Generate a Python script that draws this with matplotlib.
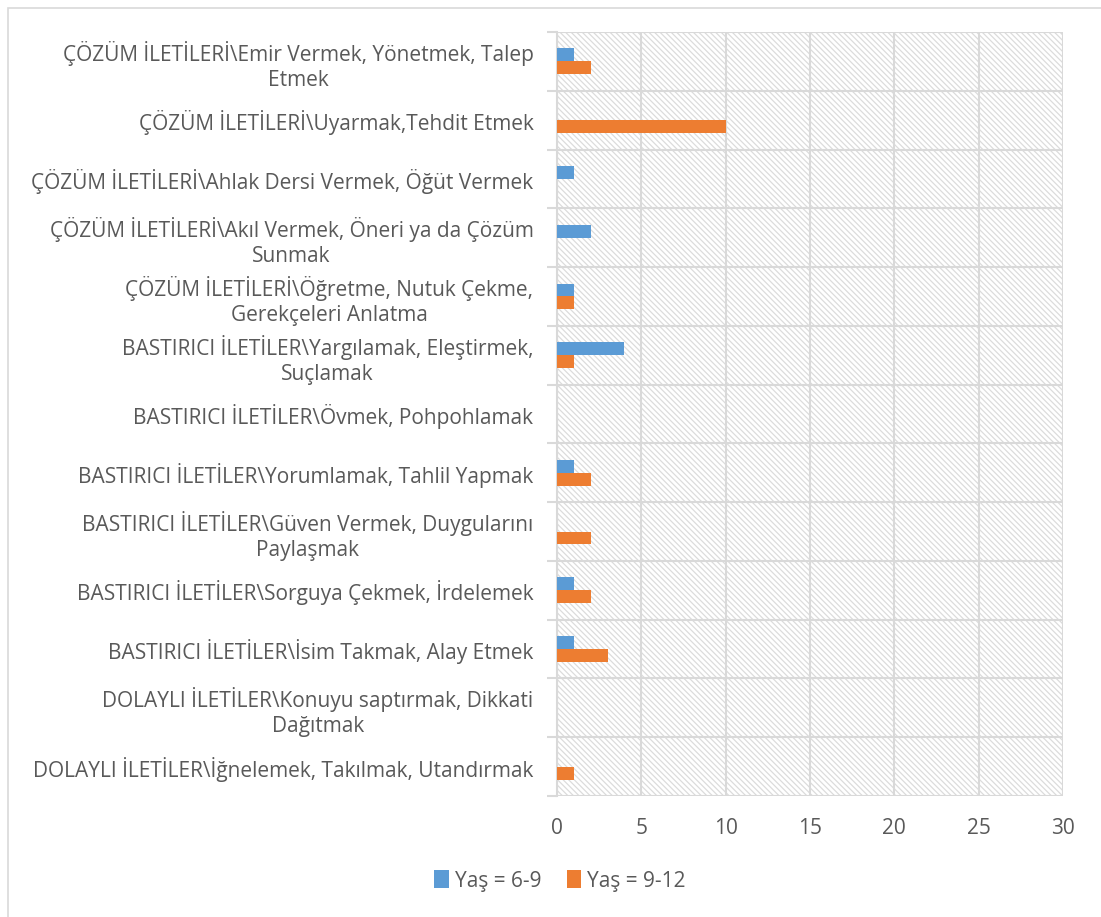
import numpy as np
import matplotlib.pyplot as plt
from matplotlib.patches import Rectangle

plt.rcParams['font.family'] = ['Open Sans', 'DejaVu Sans']
plt.rcParams['hatch.linewidth'] = 0.9

# Veriler (yukarıdan aşağıya)
kategoriler = [
    "ÇÖZÜM İLETİLERİ\\Emir Vermek, Yönetmek, Talep\nEtmek",
    "ÇÖZÜM İLETİLERİ\\Uyarmak,Tehdit Etmek",
    "ÇÖZÜM İLETİLERİ\\Ahlak Dersi Vermek, Öğüt Vermek",
    "ÇÖZÜM İLETİLERİ\\Akıl Vermek, Öneri ya da Çözüm\nSunmak",
    "ÇÖZÜM İLETİLERİ\\Öğretme, Nutuk Çekme,\nGerekçeleri Anlatma",
    "BASTIRICI İLETİLER\\Yargılamak, Eleştirmek,\nSuçlamak",
    "BASTIRICI İLETİLER\\Övmek, Pohpohlamak",
    "BASTIRICI İLETİLER\\Yorumlamak, Tahlil Yapmak",
    "BASTIRICI İLETİLER\\Güven Vermek, Duygularını\nPaylaşmak",
    "BASTIRICI İLETİLER\\Sorguya Çekmek, İrdelemek",
    "BASTIRICI İLETİLER\\İsim Takmak, Alay Etmek",
    "DOLAYLI İLETİLER\\Konuyu saptırmak, Dikkati\nDağıtmak",
    "DOLAYLI İLETİLER\\İğnelemek, Takılmak, Utandırmak",
]
yas_6_9 = [1, 0, 1, 2, 1, 4, 0, 1, 0, 1, 1, 0, 0]
yas_9_12 = [2, 10, 0, 0, 1, 1, 0, 2, 2, 2, 3, 0, 1]
x_ticks = [0, 5, 10, 15, 20, 25, 30]

mavi = '#5b9bd5'
turuncu = '#ed7d31'
gri = '#d9d9d9'
yazi = '#595959'
fs = 15

fig = plt.figure(figsize=(11.01, 9.17), dpi=100)
fig.patches.append(Rectangle((8 / 1101, -0.01), 1.0, 1 - 8 / 917 + 0.01,
                             transform=fig.transFigure, fill=False,
                             edgecolor=gri, linewidth=1.2))
ax = fig.add_axes([557 / 1101, 1 - 796 / 917, 506 / 1101, 764 / 917])

y = np.arange(len(kategoriler))
h = 0.22
ax.add_patch(Rectangle((0, 0), 1, 1, transform=ax.transAxes, facecolor='white',
                       edgecolor='#dcdcdc', hatch='\\' * 6, linewidth=0, zorder=0))
ax.barh(y - h / 2, yas_6_9, height=h, color=mavi, label='Yaş = 6-9', zorder=3)
ax.barh(y + h / 2, yas_9_12, height=h, color=turuncu, label='Yaş = 9-12', zorder=3)

ax.set_xlim(0, 30)
ax.set_ylim(len(kategoriler) - 0.5, -0.5)
ax.set_xticks(x_ticks)
ax.set_yticks(y)
ax.set_yticklabels(kategoriler, multialignment='center', linespacing=1.25)
ax.set_yticks(np.arange(-0.5, len(kategoriler)), minor=True)
ax.tick_params(axis='y', which='major', length=0, pad=17, labelsize=fs, labelcolor=yazi)
ax.tick_params(axis='y', which='minor', length=7, color=gri, width=1.5)
ax.tick_params(axis='x', length=0, pad=16, labelsize=fs, labelcolor=yazi)
ax.grid(axis='x', color=gri, linewidth=1.5, zorder=1)
ax.grid(axis='y', which='minor', color=gri, linewidth=1.5, zorder=1)
ax.set_axisbelow(True)
for s in ['top', 'right', 'bottom']:
    ax.spines[s].set_visible(False)
ax.spines['left'].set_color(gri)
ax.spines['left'].set_linewidth(1.5)

fig.legend(loc='center', bbox_to_anchor=(560 / 1101, 1 - 881 / 917), ncol=2,
           frameon=False, fontsize=fs, labelcolor=yazi, handlelength=0.7,
           handleheight=0.95, handletextpad=0.3, columnspacing=1.2)

fig.savefig('out.png', dpi=100)
